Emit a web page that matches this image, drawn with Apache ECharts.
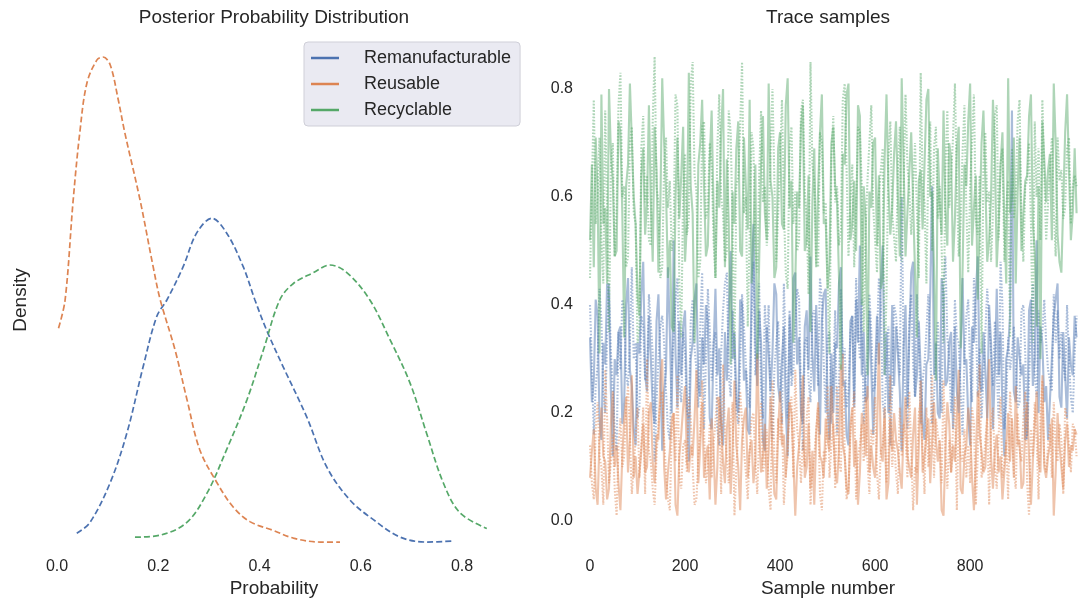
<!DOCTYPE html>
<html>
<head>
<meta charset="utf-8">
<script src="https://cdn.jsdelivr.net/npm/echarts@6/dist/echarts.min.js"></script>
<style>
  html, body { margin: 0; padding: 0; background: #ffffff; }
  #chart { width: 1078px; height: 606px; }
</style>
</head>
<body>
<div id="chart"></div>
<script>
// Category names (legend order)
const categories = ['Remanufacturable', 'Reusable', 'Recyclable'];

// Posterior density curves (probability, density)
const remanX = [0.039,0.065,0.105,0.138,0.17,0.197,0.217,0.249,0.276,0.306,0.335,0.368,0.391,0.414,0.447,0.493,0.533,0.579,0.625,0.678,0.73,0.783];
const remanY = [0.10,0.21,0.62,1.13,1.81,2.33,2.50,2.84,3.19,3.34,3.19,2.84,2.50,2.19,1.81,1.30,0.78,0.44,0.24,0.06,0.01,0.02];
const reuseX = [0.003,0.016,0.032,0.045,0.059,0.079,0.091,0.105,0.121,0.134,0.164,0.19,0.204,0.233,0.257,0.282,0.316,0.348,0.381,0.427,0.467,0.52,0.559];
const reuseY = [2.21,2.50,3.53,4.22,4.73,4.97,5.00,4.92,4.56,4.22,3.53,2.84,2.50,1.99,1.47,0.96,0.62,0.37,0.22,0.13,0.05,0.01,0.01];
const recycX = [0.154,0.203,0.256,0.296,0.335,0.375,0.408,0.44,0.467,0.506,0.539,0.573,0.618,0.658,0.697,0.73,0.763,0.796,0.849];
const recycY = [0.06,0.08,0.21,0.51,0.96,1.47,1.99,2.50,2.67,2.78,2.86,2.78,2.50,2.09,1.65,1.13,0.62,0.31,0.15];

// Tick labels
const probTicks = [0.0, 0.2, 0.4, 0.6, 0.8];
const sampleTicks = [0, 200, 400, 600, 800];
const traceTicks = [0.0, 0.2, 0.4, 0.6, 0.8];

// Trace samples, thinned: one stored value per `sampleStep` draws
const sampleStep = 4;
const remanChain1 = [
  0.34,0.22,0.26,0.41,0.38,0.19,0.15,0.33,0.29,0.44,0.41,0.24,0.12,0.30,0.27,0.35,
  0.36,0.18,0.22,0.40,0.45,0.28,0.25,0.17,0.14,0.33,0.31,0.42,0.48,0.27,0.24,0.38,
  0.30,0.21,0.18,0.37,0.42,0.29,0.13,0.24,0.28,0.47,0.35,0.20,0.52,0.31,0.21,0.37,
  0.27,0.36,0.39,0.22,0.11,0.30,0.33,0.41,0.44,0.25,0.23,0.34,0.29,0.40,0.37,0.19,
  0.17,0.32,0.43,0.27,0.32,0.18,0.14,0.35,0.26,0.39,0.50,0.30,0.35,0.22,0.20,0.41,
  0.40,0.26,0.28,0.17,0.16,0.44,0.55,0.33,0.25,0.39,0.33,0.15,0.13,0.36,0.31,0.24,
  0.31,0.44,0.42,0.25,0.22,0.30,0.36,0.21,0.12,0.38,0.27,0.45,0.46,0.29,0.34,0.20,
  0.18,0.36,0.39,0.28,0.49,0.31,0.24,0.40,0.30,0.16,0.37,0.42,0.43,0.21,0.15,0.31,
  0.20,0.33,0.32,0.44,0.47,0.25,0.26,0.16,0.14,0.37,0.38,0.21,0.41,0.33,0.51,0.27,
  0.35,0.22,0.23,0.39,0.28,0.16,0.16,0.38,0.29,0.44,0.51,0.27,0.35,0.20,0.23,0.40,
  0.25,0.36,0.31,0.24,0.13,0.32,0.40,0.21,0.34,0.46,0.48,0.23,0.27,0.37,0.37,0.18,
  0.15,0.29,0.30,0.42,0.62,0.27,0.33,0.20,0.19,0.45,0.42,0.25,0.26,0.33,0.35,0.17,
  0.36,0.24,0.20,0.31,0.45,0.29,0.30,0.19,0.14,0.36,0.33,0.42,0.49,0.26,0.24,0.35,
  0.28,0.19,0.40,0.33,0.17,0.28,0.43,0.27,0.35,0.21,0.12,0.30,0.32,0.38,0.76,0.24,
  0.22,0.34,0.34,0.27,0.29,0.15,0.16,0.39,0.41,0.25,0.30,0.52,0.20,0.36,0.33,0.22,
  0.25,0.15,0.15,0.30,0.38,0.41,0.44,0.23,0.21,0.35,0.27,0.19,0.34,0.29,0.27,0.38,
  0.34];
const remanChain2 = [
  0.40,0.29,0.16,0.25,0.29,0.43,0.37,0.24,0.20,0.34,0.44,0.31,0.31,0.17,0.13,0.35,
  0.28,0.41,0.39,0.27,0.25,0.33,0.47,0.30,0.33,0.19,0.21,0.38,0.36,0.26,0.27,0.42,
  0.42,0.31,0.11,0.22,0.30,0.36,0.38,0.33,0.24,0.17,0.15,0.28,0.34,0.41,0.45,0.25,
  0.22,0.35,0.31,0.20,0.19,0.37,0.41,0.32,0.28,0.21,0.36,0.46,0.17,0.30,0.43,0.35,
  0.26,0.33,0.35,0.17,0.14,0.31,0.39,0.44,0.46,0.27,0.23,0.39,0.32,0.20,0.18,0.29,
  0.42,0.36,0.29,0.24,0.21,0.37,0.48,0.27,0.30,0.44,0.24,0.19,0.40,0.33,0.40,0.21,
  0.15,0.28,0.33,0.37,0.27,0.18,0.44,0.31,0.19,0.39,0.25,0.28,0.36,0.43,0.41,0.24,
  0.13,0.33,0.34,0.26,0.22,0.38,0.39,0.33,0.25,0.45,0.41,0.29,0.20,0.34,0.35,0.18,
  0.28,0.39,0.16,0.25,0.43,0.30,0.32,0.21,0.24,0.35,0.38,0.22,0.45,0.36,0.30,0.41,
  0.18,0.26,0.31,0.42,0.35,0.24,0.25,0.34,0.45,0.40,0.22,0.19,0.30,0.36,0.14,0.24,
  0.40,0.38,0.33,0.27,0.60,0.31,0.23,0.17,0.37,0.42,0.29,0.23,0.42,0.34,0.18,0.26,
  0.29,0.35,0.42,0.33,0.18,0.23,0.31,0.37,0.26,0.20,0.44,0.49,0.34,0.30,0.20,0.26,
  0.41,0.34,0.33,0.24,0.16,0.30,0.38,0.41,0.28,0.22,0.45,0.38,0.23,0.32,0.19,0.27,
  0.35,0.43,0.43,0.31,0.25,0.37,0.28,0.19,0.48,0.40,0.17,0.22,0.34,0.28,0.31,0.36,
  0.29,0.21,0.22,0.39,0.40,0.31,0.15,0.26,0.37,0.44,0.27,0.23,0.39,0.33,0.35,0.41,
  0.33,0.28,0.26,0.24,0.42,0.33,0.39,0.30,0.35,0.29,0.26,0.40,0.30,0.23,0.20,0.31,
  0.38];
const reuseChain1 = [
  0.08,0.13,0.17,0.06,0.03,0.15,0.21,0.12,0.11,0.04,0.06,0.18,0.24,0.10,0.14,0.07,
  0.02,0.12,0.19,0.23,0.09,0.15,0.27,0.08,0.12,0.05,0.05,0.13,0.18,0.09,0.10,0.20,
  0.22,0.11,0.07,0.16,0.15,0.26,0.30,0.10,0.04,0.09,0.13,0.19,0.20,0.03,0.01,0.12,
  0.16,0.21,0.25,0.11,0.09,0.14,0.12,0.19,0.28,0.07,0.14,0.22,0.08,0.12,0.14,0.04,
  0.19,0.13,0.03,0.10,0.23,0.18,0.11,0.07,0.17,0.21,0.05,0.13,0.26,0.14,0.10,0.02,
  0.15,0.19,0.21,0.08,0.13,0.15,0.07,0.11,0.31,0.17,0.09,0.12,0.18,0.06,0.13,0.23,
  0.12,0.05,0.04,0.17,0.24,0.14,0.16,0.08,0.08,0.22,0.20,0.11,0.01,0.10,0.14,0.19,
  0.27,0.08,0.10,0.18,0.06,0.13,0.03,0.16,0.22,0.12,0.11,0.08,0.19,0.15,0.13,0.25,
  0.17,0.09,0.07,0.13,0.29,0.14,0.12,0.06,0.05,0.18,0.21,0.10,0.15,0.03,0.09,0.20,
  0.18,0.12,0.25,0.09,0.14,0.10,0.08,0.16,0.33,0.13,0.11,0.21,0.04,0.07,0.19,0.13,
  0.20,0.15,0.13,0.09,0.06,0.17,0.23,0.12,0.10,0.08,0.16,0.21,0.03,0.14,0.26,0.09,
  0.12,0.16,0.19,0.07,0.07,0.22,0.15,0.11,0.15,0.02,0.01,0.13,0.22,0.18,0.09,0.14,
  0.11,0.19,0.28,0.06,0.05,0.12,0.14,0.21,0.17,0.08,0.02,0.11,0.24,0.16,0.13,0.09,
  0.10,0.20,0.30,0.12,0.06,0.13,0.16,0.09,0.12,0.04,0.04,0.14,0.20,0.11,0.19,0.08,
  0.25,0.14,0.15,0.06,0.07,0.18,0.22,0.12,0.03,0.11,0.18,0.24,0.11,0.09,0.27,0.10,
  0.08,0.12,0.14,0.19,0.01,0.09,0.20,0.14,0.10,0.06,0.15,0.18,0.10,0.14,0.13,0.17,
  0.16];
const reuseChain2 = [
  0.14,0.07,0.04,0.17,0.22,0.12,0.10,0.03,0.28,0.19,0.07,0.11,0.16,0.06,0.01,0.14,
  0.19,0.10,0.12,0.21,0.25,0.16,0.05,0.10,0.15,0.21,0.08,0.14,0.21,0.05,0.30,0.13,
  0.11,0.06,0.03,0.12,0.18,0.22,0.24,0.15,0.09,0.04,0.02,0.16,0.20,0.11,0.27,0.08,
  0.06,0.14,0.15,0.09,0.23,0.19,0.10,0.03,0.04,0.12,0.17,0.26,0.26,0.07,0.10,0.18,
  0.08,0.14,0.14,0.23,0.21,0.05,0.29,0.16,0.12,0.07,0.18,0.22,0.01,0.10,0.16,0.24,
  0.24,0.13,0.09,0.04,0.13,0.19,0.20,0.11,0.05,0.16,0.22,0.09,0.11,0.17,0.06,0.02,
  0.26,0.12,0.07,0.19,0.15,0.20,0.03,0.09,0.12,0.22,0.23,0.08,0.28,0.17,0.14,0.07,
  0.15,0.10,0.19,0.23,0.03,0.09,0.12,0.17,0.21,0.05,0.02,0.13,0.11,0.25,0.08,0.14,
  0.18,0.06,0.25,0.11,0.09,0.31,0.13,0.04,0.06,0.16,0.20,0.24,0.04,0.12,0.14,0.18,
  0.11,0.23,0.11,0.05,0.17,0.14,0.23,0.09,0.04,0.13,0.14,0.19,0.07,0.12,0.27,0.10,
  0.15,0.09,0.05,0.21,0.12,0.18,0.16,0.08,0.24,0.13,0.02,0.10,0.09,0.20,0.22,0.13,
  0.05,0.21,0.10,0.14,0.27,0.08,0.19,0.16,0.14,0.07,0.26,0.13,0.06,0.15,0.09,0.17,
  0.23,0.02,0.20,0.12,0.11,0.17,0.08,0.14,0.07,0.21,0.18,0.03,0.12,0.29,0.08,0.10,
  0.15,0.19,0.03,0.18,0.21,0.10,0.06,0.16,0.23,0.08,0.11,0.15,0.04,0.24,0.17,0.09,
  0.06,0.20,0.13,0.11,0.19,0.24,0.07,0.01,0.17,0.12,0.22,0.15,0.04,0.20,0.26,0.11,
  0.09,0.14,0.18,0.08,0.22,0.13,0.11,0.18,0.15,0.05,0.21,0.19,0.14,0.09,0.18,0.17,
  0.12];
const recycChain1 = [
  0.52,0.66,0.47,0.71,0.61,0.31,0.79,0.55,0.58,0.44,0.80,0.68,0.63,0.49,0.50,0.74,
  0.72,0.57,0.34,0.62,0.66,0.81,0.81,0.60,0.55,0.42,0.38,0.64,0.69,0.53,0.59,0.77,
  0.59,0.48,0.73,0.65,0.46,0.58,0.82,0.70,0.61,0.45,0.52,0.36,0.35,0.60,0.71,0.56,
  0.64,0.73,0.48,0.55,0.83,0.62,0.57,0.33,0.43,0.66,0.70,0.78,0.62,0.49,0.51,0.67,
  0.76,0.58,0.45,0.63,0.58,0.72,0.80,0.47,0.67,0.55,0.29,0.61,0.55,0.69,0.74,0.50,
  0.49,0.71,0.62,0.54,0.78,0.44,0.53,0.66,0.30,0.48,0.66,0.75,0.57,0.52,0.81,0.63,
  0.60,0.45,0.47,0.69,0.72,0.55,0.54,0.77,0.82,0.58,0.63,0.33,0.44,0.61,0.58,0.73,
  0.77,0.50,0.52,0.64,0.35,0.59,0.69,0.47,0.61,0.72,0.79,0.55,0.56,0.43,0.48,0.70,
  0.73,0.62,0.59,0.45,0.28,0.68,0.66,0.79,0.81,0.52,0.55,0.63,0.50,0.77,0.75,0.40,
  0.62,0.56,0.27,0.61,0.58,0.70,0.71,0.51,0.64,0.43,0.45,0.67,0.79,0.62,0.53,0.58,
  0.68,0.74,0.60,0.49,0.82,0.66,0.49,0.57,0.57,0.72,0.72,0.46,0.34,0.63,0.65,0.54,
  0.54,0.78,0.80,0.60,0.61,0.47,0.26,0.69,0.59,0.53,0.76,0.58,0.51,0.70,0.67,0.48,
  0.56,0.69,0.73,0.32,0.46,0.66,0.62,0.74,0.81,0.51,0.58,0.64,0.41,0.55,0.70,0.76,
  0.63,0.48,0.52,0.60,0.78,0.69,0.47,0.55,0.66,0.72,0.55,0.44,0.82,0.57,0.60,0.71,
  0.44,0.61,0.71,0.50,0.57,0.63,0.64,0.75,0.79,0.55,0.50,0.36,0.62,0.30,0.74,0.67,
  0.59,0.65,0.68,0.52,0.81,0.70,0.53,0.48,0.46,0.59,0.72,0.79,0.65,0.52,0.57,0.69,
  0.57];
const recycChain2 = [
  0.45,0.62,0.78,0.55,0.60,0.71,0.52,0.44,0.76,0.58,0.35,0.66,0.70,0.49,0.58,0.77,
  0.83,0.60,0.62,0.47,0.49,0.70,0.73,0.57,0.55,0.33,0.36,0.69,0.75,0.59,0.64,0.52,
  0.51,0.74,0.86,0.62,0.59,0.45,0.47,0.66,0.71,0.58,0.63,0.50,0.54,0.79,0.77,0.44,
  0.34,0.61,0.68,0.53,0.56,0.81,0.85,0.64,0.61,0.45,0.48,0.73,0.74,0.56,0.58,0.70,
  0.66,0.52,0.45,0.69,0.79,0.60,0.57,0.48,0.50,0.76,0.72,0.55,0.30,0.62,0.64,0.73,
  0.85,0.57,0.60,0.36,0.53,0.72,0.69,0.50,0.46,0.64,0.76,0.59,0.62,0.51,0.55,0.68,
  0.80,0.63,0.48,0.57,0.67,0.78,0.58,0.46,0.43,0.69,0.73,0.55,0.61,0.50,0.52,0.76,
  0.78,0.61,0.56,0.42,0.85,0.66,0.63,0.48,0.47,0.72,0.70,0.57,0.59,0.44,0.31,0.67,
  0.75,0.59,0.62,0.51,0.54,0.78,0.81,0.65,0.49,0.59,0.66,0.47,0.58,0.73,0.72,0.62,
  0.35,0.54,0.63,0.70,0.77,0.58,0.52,0.46,0.60,0.65,0.69,0.27,0.42,0.67,0.74,0.57,
  0.57,0.48,0.65,0.73,0.48,0.62,0.79,0.66,0.61,0.53,0.53,0.70,0.70,0.45,0.83,0.62,
  0.59,0.44,0.66,0.74,0.50,0.69,0.73,0.56,0.62,0.51,0.33,0.65,0.76,0.58,0.64,0.71,
  0.81,0.62,0.49,0.55,0.68,0.77,0.58,0.46,0.62,0.70,0.79,0.56,0.53,0.64,0.31,0.66,
  0.72,0.59,0.61,0.48,0.57,0.75,0.77,0.52,0.66,0.69,0.48,0.58,0.63,0.34,0.69,0.56,
  0.60,0.74,0.78,0.55,0.48,0.62,0.63,0.70,0.55,0.33,0.74,0.60,0.69,0.52,0.78,0.64,
  0.52,0.59,0.65,0.71,0.58,0.49,0.71,0.63,0.65,0.56,0.58,0.69,0.71,0.55,0.62,0.64,
  0.62];

// Palette
const colors = ['#4c72b0', '#dd8452', '#55a868'];
const textColor = '#262626';
const fontFamily = "'Liberation Sans', Arial, sans-serif";

function zipXY(xs, ys) { return xs.map((x, i) => [x, ys[i]]); }
function traceData(values) { return values.map((v, i) => [i * sampleStep, v]); }

const densitySeries = [
  [remanX, remanY], [reuseX, reuseY], [recycX, recycY]
].map(([xs, ys], k) => ({
  name: categories[k],
  type: 'line',
  xAxisIndex: 0, yAxisIndex: 0,
  data: zipXY(xs, ys),
  smooth: 0.35,
  showSymbol: false,
  clip: false,
  color: colors[k],
  lineStyle: { color: colors[k], width: 1.7, type: [6, 3] },
  z: 3
}));

// Two chains per category: first solid, second dotted
const chains = [
  [remanChain1, 0, 'solid'], [remanChain2, 0, 'dotted'],
  [reuseChain1, 1, 'solid'], [reuseChain2, 1, 'dotted'],
  [recycChain1, 2, 'solid'], [recycChain2, 2, 'dotted']
];
const traceSeries = chains.map(([vals, k, style], j) => ({
  name: categories[k] + ' trace ' + (j % 2 + 1),
  type: 'line',
  xAxisIndex: 1, yAxisIndex: 1,
  data: traceData(vals),
  showSymbol: false,
  clip: false,
  lineStyle: {
    color: colors[k], width: 2.1,
    type: style === 'solid' ? 'solid' : [1.6, 1.6],
    opacity: 0.48
  },
  z: 2
}));

const titleStyle = { fontSize: 19, fontWeight: 'normal', color: textColor, fontFamily: fontFamily };

const chart = echarts.init(document.getElementById('chart'), null, { renderer: 'canvas' });
chart.setOption({
  animation: false,
  backgroundColor: '#ffffff',
  textStyle: { fontFamily: fontFamily, color: textColor },
  title: [
    { text: 'Posterior Probability Distribution', left: 274, top: 8, textAlign: 'center', padding: 0, textStyle: titleStyle },
    { text: 'Trace samples', left: 828, top: 8, textAlign: 'center', padding: 0, textStyle: titleStyle },
    { text: 'Probability', left: 274, top: 579, textAlign: 'center', padding: 0, textStyle: titleStyle },
    { text: 'Sample number', left: 828, top: 579, textAlign: 'center', padding: 0, textStyle: titleStyle }
  ],
  legend: {
    data: categories,
    orient: 'vertical',
    left: 304, top: 42,
    icon: 'rect',
    itemWidth: 28, itemHeight: 2.5,
    itemGap: 8,
    backgroundColor: '#eaeaf2',
    borderColor: '#cfcfd8', borderWidth: 1, borderRadius: 4,
    padding: [7, 9, 7, 7],
    itemStyle: { borderWidth: 0 },
    textStyle: { fontSize: 18, color: textColor, fontFamily: fontFamily, padding: [0, 0, 0, 20] }
  },
  grid: [
    // probability axis runs 0..1.0 so the curve tails past 0.8 stay inside it; 0.8 sits at x=462
    { left: 57, width: 506.25, top: 57, bottom: 606 - 543, containLabel: false },
    { left: 590, right: 0, top: 89, bottom: 606 - 521, containLabel: false }
  ],
  xAxis: [
    {
      gridIndex: 0, type: 'value', min: 0, max: 1.0, interval: 0.2,
      axisLine: { show: false }, axisTick: { show: false }, splitLine: { show: false },
      axisLabel: { margin: 16, fontSize: 16, color: textColor, fontFamily: fontFamily,
                   showMaxLabel: false,
                   formatter: v => (v <= probTicks[probTicks.length - 1] + 1e-9 ? v.toFixed(1) : '') }
    },
    {
      gridIndex: 1, type: 'value', min: 0, max: 1027, interval: 200,
      axisLine: { show: false }, axisTick: { show: false }, splitLine: { show: false },
      axisLabel: { margin: 38, fontSize: 16, color: textColor, fontFamily: fontFamily,
                   showMaxLabel: false,
                   formatter: v => (sampleTicks.indexOf(v) >= 0 ? String(v) : '') }
    }
  ],
  yAxis: [
    {
      gridIndex: 0, type: 'value', min: 0, max: 5,
      name: 'Density', nameLocation: 'middle', nameGap: 27,
      nameTextStyle: { fontSize: 19, color: textColor, fontFamily: fontFamily },
      axisLine: { show: false }, axisTick: { show: false }, splitLine: { show: false },
      axisLabel: { show: false }
    },
    {
      gridIndex: 1, type: 'value', min: traceTicks[0], max: traceTicks[traceTicks.length - 1], interval: 0.2,
      axisLine: { show: false }, axisTick: { show: false }, splitLine: { show: false },
      axisLabel: { margin: 17, fontSize: 16, color: textColor, fontFamily: fontFamily,
                   formatter: v => v.toFixed(1) }
    }
  ],
  series: traceSeries.concat(densitySeries)
});
</script>
</body>
</html>
